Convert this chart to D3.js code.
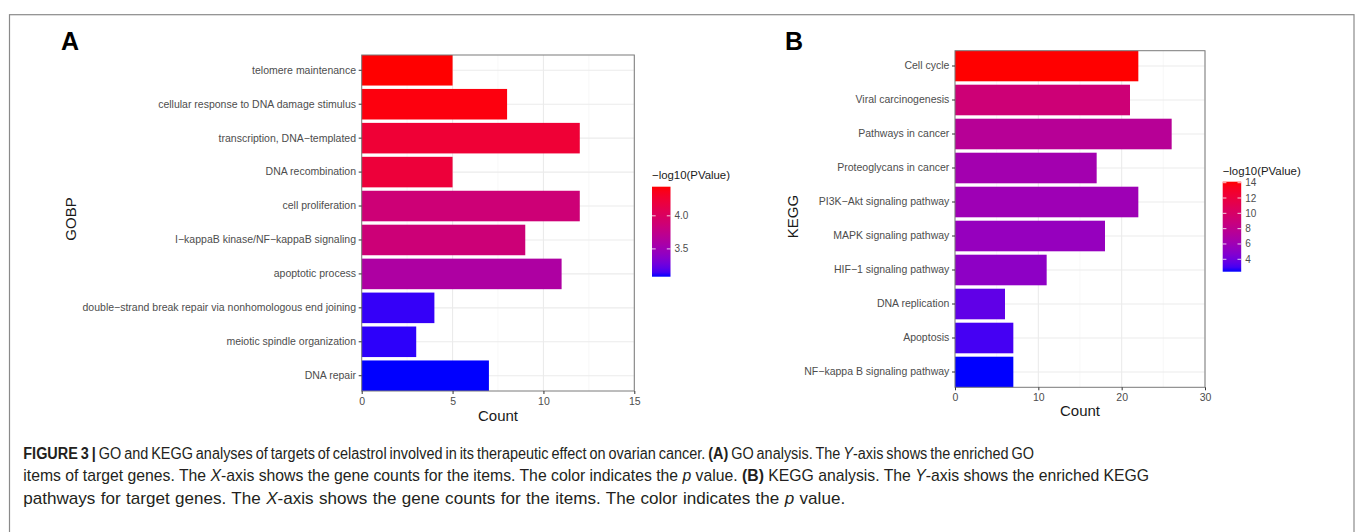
<!DOCTYPE html>
<html>
<head>
<meta charset="utf-8">
<script src="https://cdn.jsdelivr.net/npm/d3@7"></script>
<style>
  body { margin: 0; background: #fff; }
  svg { display: block; font-family: "Liberation Sans", Arial, sans-serif; }
</style>
</head>
<body>
<svg id="chart" width="1355" height="532"></svg>
<script>
// panel A - GO biological process
const goTerms = ["telomere maintenance", "cellular response to DNA damage stimulus", "transcription, DNA\u2212templated",
  "DNA recombination", "cell proliferation", "I\u2212kappaB kinase/NF\u2212kappaB signaling", "apoptotic process",
  "double\u2212strand break repair via nonhomologous end joining", "meiotic spindle organization", "DNA repair"]
const goCounts = [5, 8, 12, 5, 12, 9, 11, 4, 3, 7]
const goLogP = [4.44, 4.41, 4.24, 4.22, 3.87, 3.86, 3.61, 3.12, 3.11, 3.08]
const goTicks = [0, 5, 10, 15]
const goMinor = [2.5, 7.5, 12.5]
const goLegendTicks = [3.5, 4.0]

// panel B - KEGG
const keggTerms = ["Cell cycle", "Viral carcinogenesis", "Pathways in cancer", "Proteoglycans in cancer",
  "PI3K\u2212Akt signaling pathway", "MAPK signaling pathway", "HIF\u22121 signaling pathway", "DNA replication",
  "Apoptosis", "NF\u2212kappa B signaling pathway"]
const keggCounts = [22, 21, 26, 17, 22, 18, 11, 6, 7, 7]
const keggLogP = [14.13, 9.2, 7.55, 6.26, 6.0, 5.55, 5.2, 3.55, 2.97, 2.38]
const keggTicks = [0, 10, 20, 30]
const keggMinor = [5, 15, 25]
const keggLegendTicks = [4, 6, 8, 10, 12, 14]

const svg = d3.select('#chart')

svg.append('rect')
  .attr('x', 9.5).attr('y', 14.7)
  .attr('width', 1344.5).attr('height', 600)
  .attr('fill', 'none').attr('stroke', '#8a8a8a').attr('stroke-width', 1.2)

function drawPanel(p) {
  const rows = p.terms.map((t, i) => ({ term: t, count: p.counts[i], logp: p.logP[i] }))
  const g = svg.append('g')

  const x = d3.scaleLinear().domain([p.ticks[0], p.ticks[p.ticks.length - 1]]).range([p.left, p.right])
  const y = d3.scaleBand().domain(p.terms).range([p.top, p.bottom]).paddingInner(0.1).paddingOuter(0)
  const ext = d3.extent(p.logP)
  const color = d3.scaleLinear().domain(ext).range(['#0000FF', '#FF0000']).interpolate(d3.interpolateLab)

  // grid
  g.append('g').selectAll('line').data(p.minor).join('line')
    .attr('x1', d => x(d)).attr('x2', d => x(d))
    .attr('y1', p.top).attr('y2', p.bottom)
    .attr('stroke', '#f3f3f3').attr('stroke-width', 0.6)
  g.append('g').selectAll('line').data(p.ticks).join('line')
    .attr('x1', d => x(d)).attr('x2', d => x(d))
    .attr('y1', p.top).attr('y2', p.bottom)
    .attr('stroke', '#ebebeb').attr('stroke-width', 1.1)
  g.append('g').selectAll('line').data(p.terms).join('line')
    .attr('x1', p.left).attr('x2', p.right)
    .attr('y1', d => y(d) + y.bandwidth() / 2).attr('y2', d => y(d) + y.bandwidth() / 2)
    .attr('stroke', '#ebebeb').attr('stroke-width', 1.1)

  // bars
  g.append('g').selectAll('rect').data(rows).join('rect')
    .attr('x', x(0))
    .attr('y', d => y(d.term))
    .attr('width', d => x(d.count) - x(0))
    .attr('height', y.bandwidth())
    .attr('fill', d => color(d.logp))

  g.append('rect')
    .attr('x', p.left).attr('y', p.top)
    .attr('width', p.right - p.left).attr('height', p.bottom - p.top)
    .attr('fill', 'none').attr('stroke', '#7a7a7a').attr('stroke-width', 1)

  // axes
  const xAxis = g.append('g')
    .attr('transform', `translate(0,${p.bottom})`)
    .call(d3.axisBottom(x).tickValues(p.ticks).tickSize(3).tickPadding(3.3))
  const yAxis = g.append('g')
    .attr('transform', `translate(${p.left},0)`)
    .call(d3.axisLeft(y).tickSize(3).tickPadding(2.7))
  ;[xAxis, yAxis].forEach(a => {
    a.select('.domain').remove()
    a.selectAll('line').attr('stroke', '#333')
    a.selectAll('text').attr('fill', '#4d4d4d').style('font-size', '10.5px')
      .style('font-family', '"Liberation Sans", Arial, sans-serif')
  })

  g.append('text')
    .attr('x', (p.left + p.right) / 2).attr('y', p.xTitleY)
    .attr('dy', '0.35em').attr('text-anchor', 'middle')
    .attr('font-size', '15px').attr('fill', '#1a1a1a')
    .text('Count')

  g.append('text')
    .attr('transform', `translate(${p.yTitleX},${p.yTitleY}) rotate(-90)`)
    .attr('dy', '0.35em').attr('text-anchor', 'middle')
    .attr('font-size', '15px').attr('fill', '#1a1a1a')
    .text(p.yTitle)

  g.append('text')
    .attr('x', p.letterX).attr('y', 50)
    .attr('font-size', '25px').attr('font-weight', 'bold').attr('fill', '#000')
    .text(p.letter)

  // colour bar legend
  const lg = g.append('g')
  const ls = d3.scaleLinear().domain(ext).range([p.legBottom, p.legTop])
  const grad = svg.append('defs').append('linearGradient')
    .attr('id', 'grad' + p.letter)
    .attr('x1', 0).attr('y1', 1).attr('x2', 0).attr('y2', 0)
  grad.selectAll('stop').data(d3.range(0, 1.0001, 0.05)).join('stop')
    .attr('offset', d => d)
    .attr('stop-color', d => color(ext[0] + d * (ext[1] - ext[0])))

  lg.append('text')
    .attr('x', p.legX).attr('y', p.legTitleY)
    .attr('dy', '0.35em').attr('font-size', '11.4px').attr('fill', '#1a1a1a')
    .text('\u2212log10(PValue)')

  const barW = 18.5
  lg.append('rect')
    .attr('x', p.legX).attr('y', p.legTop)
    .attr('width', barW).attr('height', p.legBottom - p.legTop)
    .attr('fill', `url(#grad${p.letter})`)

  lg.selectAll('.tl').data(p.legendTicks).join('line')
    .attr('x1', p.legX).attr('x2', p.legX + 3.7)
    .attr('y1', d => ls(d)).attr('y2', d => ls(d))
    .attr('stroke', '#fff').attr('stroke-opacity', 0.8)
  lg.selectAll('.tr').data(p.legendTicks).join('line')
    .attr('x1', p.legX + barW - 3.7).attr('x2', p.legX + barW)
    .attr('y1', d => ls(d)).attr('y2', d => ls(d))
    .attr('stroke', '#fff').attr('stroke-opacity', 0.8)
  lg.selectAll('.lab').data(p.legendTicks).join('text')
    .attr('x', p.legX + barW + 4).attr('y', d => ls(d))
    .attr('dy', '0.35em').attr('font-size', '10px').attr('fill', '#4d4d4d')
    .text(p.legendFormat)
}

drawPanel({
  letter: 'A', letterX: 61,
  terms: goTerms, counts: goCounts, logP: goLogP, ticks: goTicks, minor: goMinor,
  left: 361.7, right: 634.3, top: 55, bottom: 391,
  yTitle: 'GOBP', yTitleX: 71, yTitleY: 219, xTitleY: 416,
  legX: 652, legTop: 186.7, legBottom: 276.7, legTitleY: 175,
  legendTicks: goLegendTicks, legendFormat: d3.format('.1f')
})

drawPanel({
  letter: 'B', letterX: 785,
  terms: keggTerms, counts: keggCounts, logP: keggLogP, ticks: keggTicks, minor: keggMinor,
  left: 955, right: 1205, top: 50.7, bottom: 387.3,
  yTitle: 'KEGG', yTitleX: 792.5, yTitleY: 216.5, xTitleY: 411,
  legX: 1222.7, legTop: 181.7, legBottom: 271.7, legTitleY: 170.7,
  legendTicks: keggLegendTicks, legendFormat: d3.format('d')
})

// caption: mild word-spacing change, then each line squeezed to its end point
const captionLines = [
  [['FIGURE 3 | ', 'b'], ['GO and KEGG analyses of targets of celastrol involved in its therapeutic effect on ovarian cancer. '], ['(A)', 'b'],
   [' GO analysis. The '], ['Y', 'i'], ['-axis shows the enriched GO']],
  [['items of target genes. The '], ['X', 'i'], ['-axis shows the gene counts for the items. The color indicates the '], ['p', 'i'],
   [' value. '], ['(B)', 'b'], [' KEGG analysis. The '], ['Y', 'i'], ['-axis shows the enriched KEGG']],
  [['pathways for target genes. The '], ['X', 'i'], ['-axis shows the gene counts for the items. The color indicates the '], ['p', 'i'], [' value.']]
]
const captionY = [458.5, 481, 503.5]
const captionEnd = [1035, 1150, 846]
const capX = 23.3

const capTexts = captionLines.map(parts => {
  const t = svg.append('text')
    .attr('font-size', '16px').attr('fill', '#231f20')
    .style('font-family', '"Liberation Sans Narrow", "Liberation Sans", Arial, sans-serif')
  parts.forEach(([s, f]) => {
    t.append('tspan')
      .attr('font-weight', f === 'b' ? 'bold' : null)
      .attr('font-style', f === 'i' ? 'italic' : null)
      .text(s)
  })
  return t
})
const widths = capTexts.map(t => t.node().getComputedTextLength())
const k = d3.median(widths.map((w, i) => (captionEnd[i] - capX) / w))
capTexts.forEach((t, i) => {
  const spaces = captionLines[i].map(p => p[0]).join('').split(' ').length - 1
  let ws = ((captionEnd[i] - capX) / k - widths[i]) / spaces
  ws = Math.max(-1.2, Math.min(0.6, ws))
  t.style('word-spacing', ws + 'px')
  const w2 = t.node().getComputedTextLength()
  t.attr('transform', `translate(${capX},${captionY[i]}) scale(${(captionEnd[i] - capX) / w2},1)`)
})
</script>
</body>
</html>
